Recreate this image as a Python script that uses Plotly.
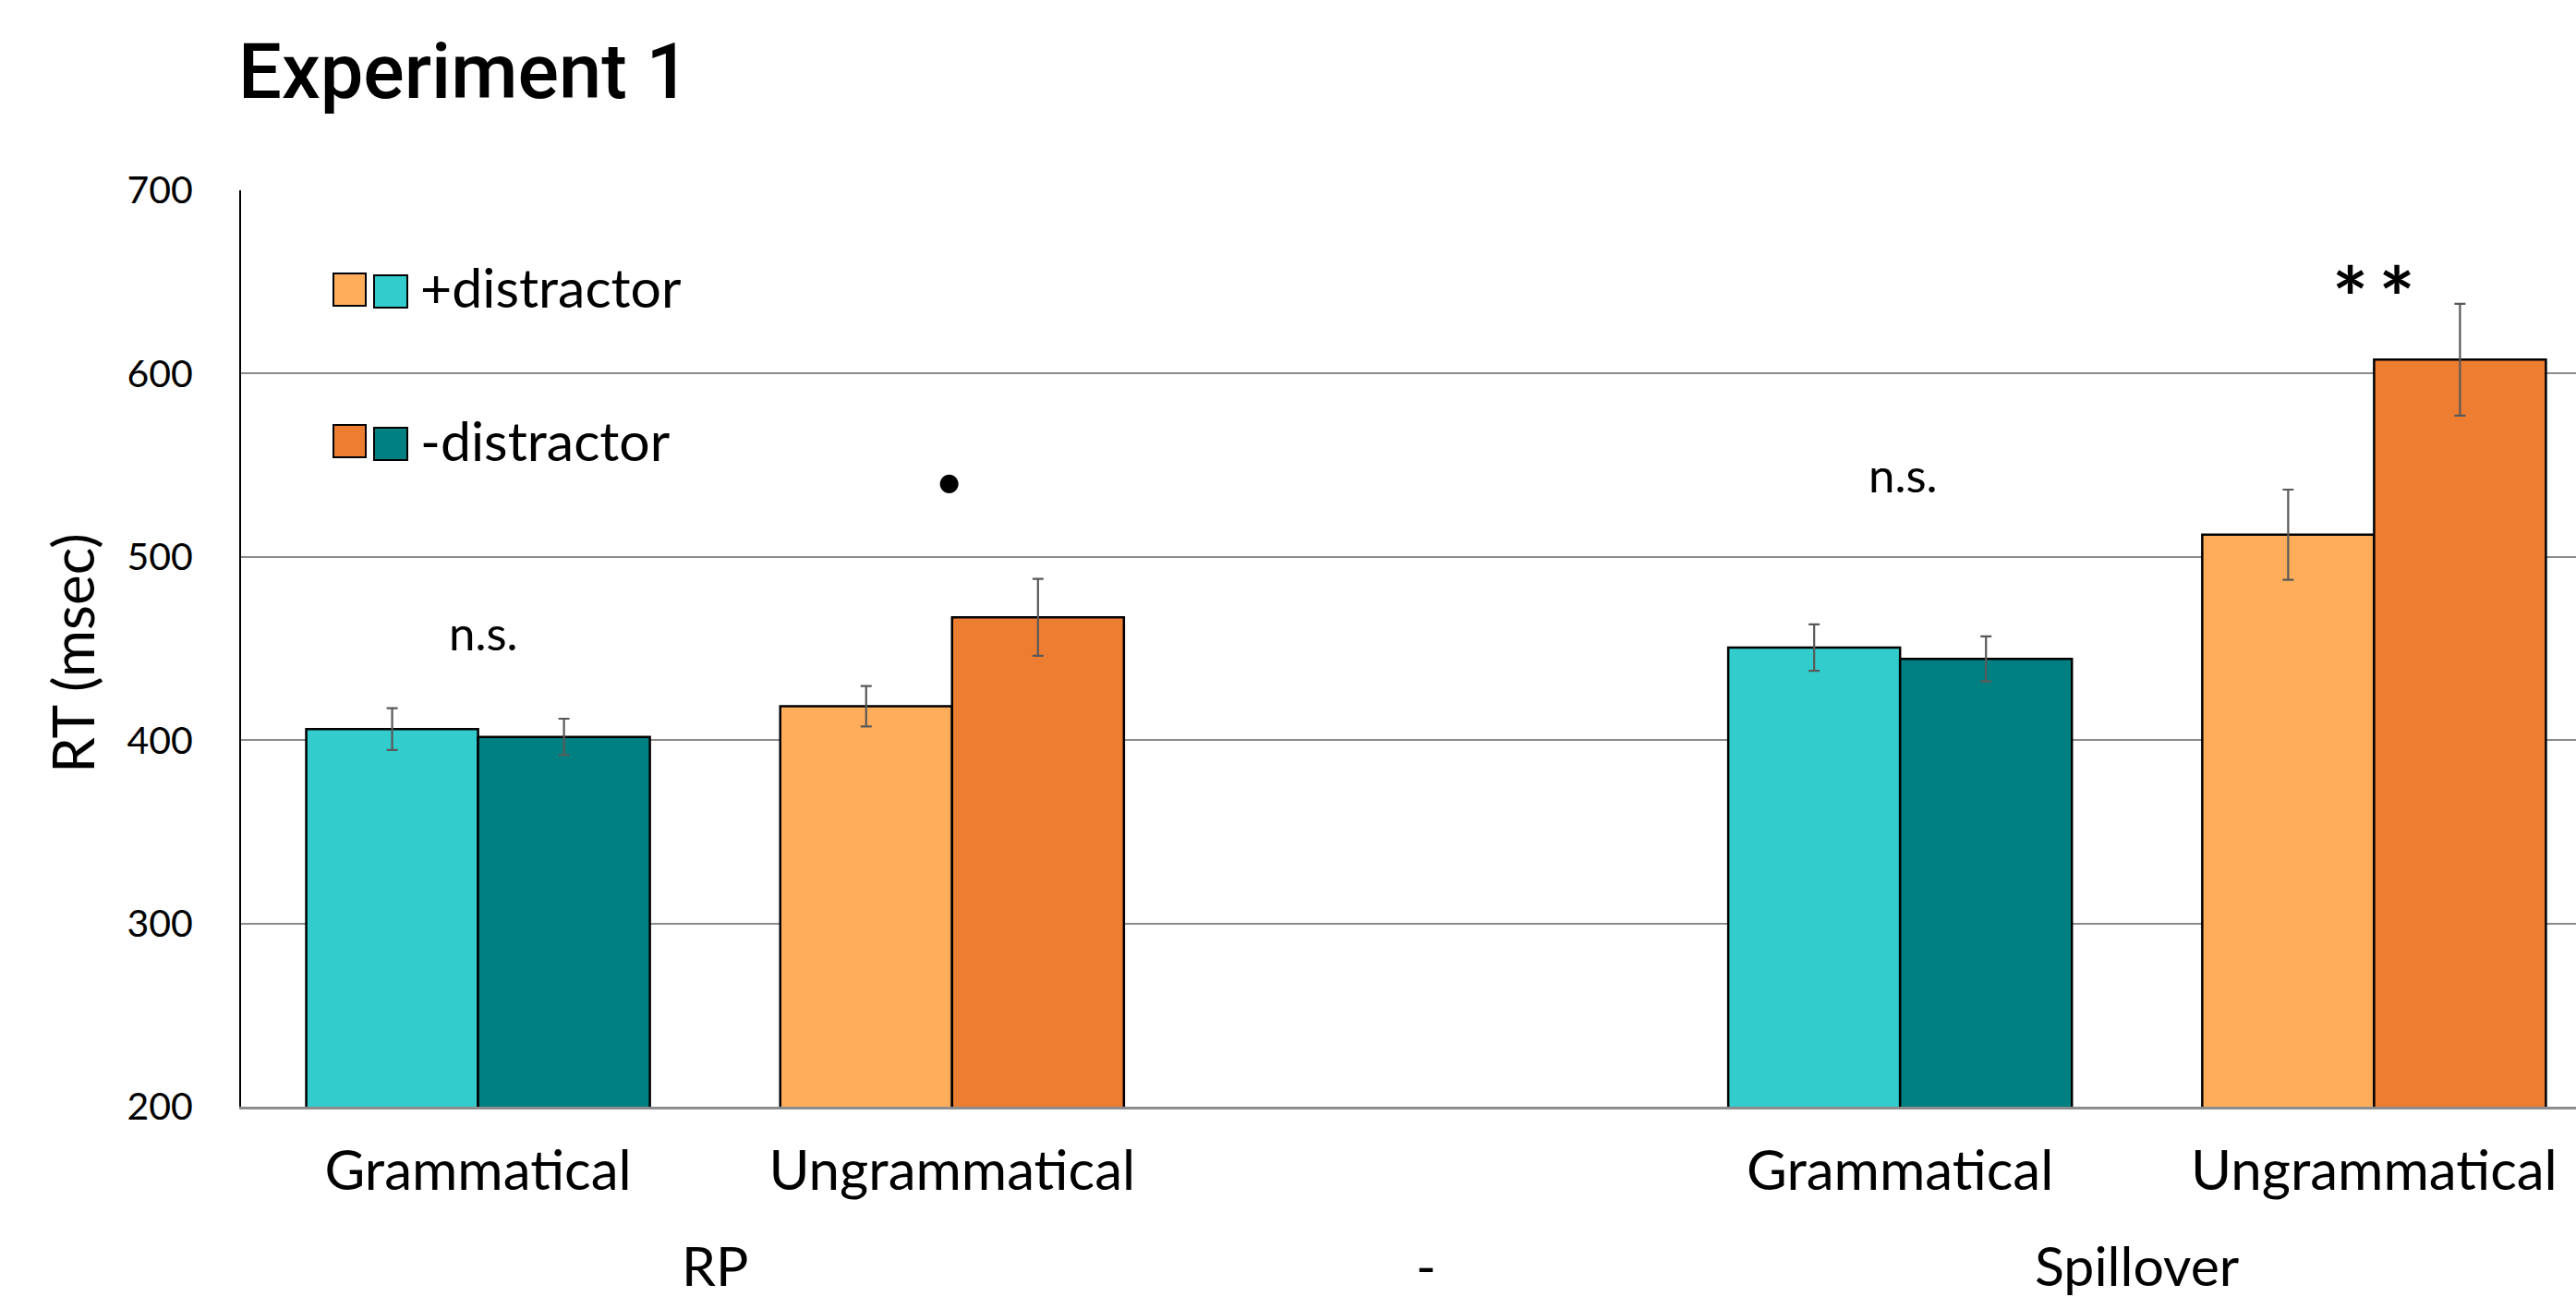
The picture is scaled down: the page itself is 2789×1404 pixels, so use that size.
import plotly.graph_objects as go

# ---- data ----
positions = [0, 1, 3, 4]
tick_labels = ["Grammatical", "Ungrammatical", "Grammatical", "Ungrammatical"]
group_labels = ["RP", "-", "Spillover"]
group_positions = [0.5, 2, 3.5]

plus_distractor = [406.0, 418.5, 450.5, 512.1]
plus_err = [11.4, 11.0, 12.7, 24.6]
minus_distractor = [401.8, 467.0, 444.3, 607.6]
minus_err = [9.9, 21.0, 12.3, 30.5]

plus_colors = ["#33CCCC", "#FFAD5B", "#33CCCC", "#FFAD5B"]
minus_colors = ["#008080", "#ED7D31", "#008080", "#ED7D31"]

sig_labels = ["n.s.", "•", "n.s.", "*\u2009*"]
sig_y = [459.0, 542.0, 545.0, 650.0]

W, H = 2789, 1404
ML, MR, MT, MB = 261, 0, 206, 206
PW, PH = W - ML - MR, H - MT - MB

FONT = "Lato"

def px(x):
    return (x - ML) / PW

def py(y):
    return (H - MB - y) / PH

fig = go.Figure()
fig.add_trace(go.Bar(
    x=positions, y=plus_distractor, name="+distractor",
    marker=dict(color=plus_colors, line=dict(color="black", width=2.5)),
    error_y=dict(type="data", array=plus_err, color="#595959", thickness=2.2, width=6),
))
fig.add_trace(go.Bar(
    x=positions, y=minus_distractor, name="-distractor",
    marker=dict(color=minus_colors, line=dict(color="black", width=2.5)),
    error_y=dict(type="data", array=minus_err, color="#595959", thickness=2.2, width=6),
))

annotations = []
# significance labels
for xp, yv, t in zip(positions, sig_y, sig_labels):
    xs, ys = 0, 0
    if t == "•":
        f = dict(family=FONT, size=54, color="black")
        xs = -3
    elif t.startswith("*"):
        f = dict(family=FONT, size=92, color="black", weight="bold")
        ys = -16
    else:
        f = dict(family=FONT, size=51, color="black")
        xs = 6 if xp == 0 else 3
    annotations.append(dict(x=xp, y=yv, xref="x", yref="y", text=t, showarrow=False,
                            font=f, xanchor="center", yanchor="middle", xshift=xs, yshift=ys))

# group labels below axis
for gx, gl in zip(group_positions, group_labels):
    annotations.append(dict(x=gx, y=py(1369), xref="x", yref="paper", text=gl,
                            showarrow=False, font=dict(family=FONT, size=59, color="black"),
                            xanchor="center", yanchor="middle"))

# y-axis title
annotations.append(dict(x=px(78), y=py(707), xref="paper", yref="paper", text="RT (msec)",
                        textangle=-90, showarrow=False,
                        font=dict(family=FONT, size=62, color="black"),
                        xanchor="center", yanchor="middle"))

# title
annotations.append(dict(x=px(256), y=py(78), xref="paper", yref="paper", text="Experiment 1",
                        showarrow=False, font=dict(family="Roboto", size=83, color="black", weight=500),
                        xanchor="left", yanchor="middle"))

# custom legend
legend_rows = [
    ("+distractor", "#FFAD5B", "#33CCCC", 296, 298, 310),
    ("-distractor", "#ED7D31", "#008080", 460, 463, 476),
]
shapes = []
for label, c1, c2, y1, y2, ty in legend_rows:
    shapes.append(dict(type="rect", xref="paper", yref="paper",
                       x0=px(361), x1=px(396), y0=py(y1), y1=py(y1 + 35),
                       fillcolor=c1, line=dict(color="black", width=2)))
    shapes.append(dict(type="rect", xref="paper", yref="paper",
                       x0=px(405), x1=px(441), y0=py(y2), y1=py(y2 + 35),
                       fillcolor=c2, line=dict(color="black", width=2)))
    annotations.append(dict(x=px(453), y=py(ty), xref="paper", yref="paper", text=label,
                            showarrow=False, font=dict(family=FONT, size=59, color="black"),
                            xanchor="left", yanchor="middle"))

fig.update_layout(
    width=W, height=H,
    margin=dict(l=ML, r=MR, t=MT, b=MB),
    paper_bgcolor="white", plot_bgcolor="white",
    barmode="group", bargap=0.275, bargroupgap=0,
    showlegend=False,
    annotations=annotations, shapes=shapes,
    font=dict(family=FONT, color="black"),
)
fig.update_xaxes(
    range=[-0.5, 4.426], tickvals=positions, ticktext=tick_labels,
    tickfont=dict(family=FONT, size=60, color="black"),
    showgrid=False, zeroline=False, showline=True, linecolor="#8c8c8c", linewidth=3,
    ticks="", ticklabelstandoff=15,
)
fig.update_yaxes(
    range=[200, 700], tickvals=[200, 300, 400, 500, 600, 700],
    tickfont=dict(family=FONT, size=41, color="black"),
    showgrid=True, gridcolor="#8c8c8c", gridwidth=2, zeroline=False,
    showline=True, linecolor="black", linewidth=2, ticks="", ticklabelstandoff=42,
)

fig.write_html("out.html", config={"displayModeBar": False},
               post_script="document.body.style.margin='0';document.body.style.overflow='hidden';")
